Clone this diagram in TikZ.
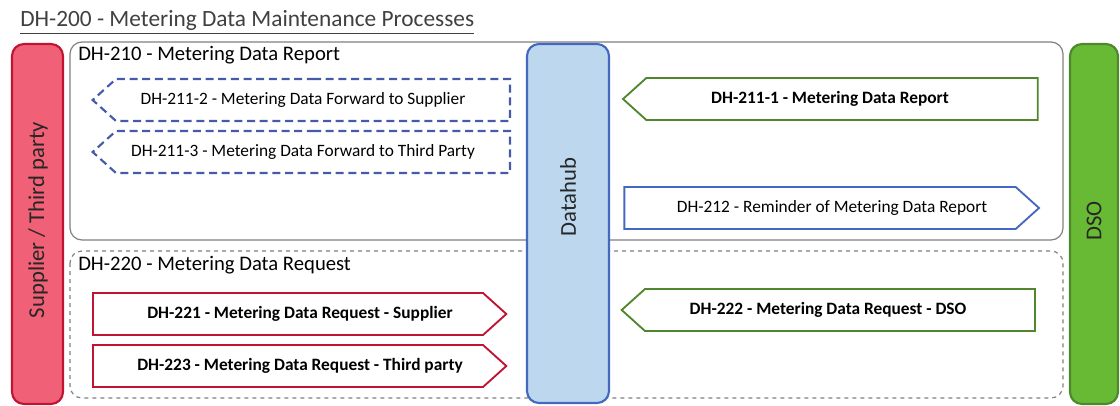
\documentclass[tikz,border=0pt]{standalone}
\usepackage{fontspec}
\setmainfont{Carlito}
\usetikzlibrary{shapes.symbols}

\definecolor{barred}{RGB}{240,96,118}
\definecolor{edgered}{RGB}{192,20,50}
\definecolor{hubblue}{RGB}{189,215,238}
\definecolor{edgeblue}{RGB}{68,104,190}
\definecolor{dashblue}{RGB}{70,90,170}
\definecolor{bargreen}{RGB}{104,186,52}
\definecolor{edgegreen}{RGB}{80,135,45}

\tikzset{
  lane/.style={draw,line width=1.6pt,rounded corners=9pt},
  lanetext/.style={rotate=90,text=black!85,font=\fontsize{17}{20}\selectfont},
  group/.style={draw=gray,line width=0.9pt,rounded corners=9pt},
  grouptext/.style={anchor=north west,inner sep=0pt,font=\fontsize{15.5}{18}\selectfont},
  flow/.style={signal,signal from=nowhere,signal pointer angle=84,
    line width=1.4pt,minimum height=31.5pt,minimum width=311pt,inner sep=0pt},
  fwd/.style={flow,signal to=west,draw=dashblue,line width=1.6pt,dash pattern=on 6pt off 3.5pt},
  flowtext/.style={font=\fontsize{13}{15}\selectfont},
  boldtext/.style={font=\fontsize{13}{15}\bfseries\selectfont},
}

\begin{document}
\begin{tikzpicture}[x=0.75pt,y=-0.75pt]
  \useasboundingbox (0,0) rectangle (1120,406);

  % title
  \node[anchor=base west,inner sep=0pt,text=black!75,font=\fontsize{17.5}{20}\selectfont] (title) at (20,27)
    {\underline{DH-200 - Metering Data Maintenance Processes}};

  % groups
  \draw[group] (70,42) rectangle (1063,240);
  \node[grouptext] (g210) at (78,46) {DH-210 - Metering Data Report};
  \draw[group,dashed] (70,251) rectangle (1063,398);
  \node[grouptext] (g220) at (78,256) {DH-220 - Metering Data Request};

  % lanes
  \draw[lane,draw=edgered,fill=barred] (12,44) rectangle (63,404);
  \node[lanetext] (supp) at (38,220) {Supplier / Third party};
  \draw[lane,draw=edgeblue,fill=hubblue] (527,44) rectangle (609,403);
  \node[lanetext] (hub) at (568,197) {Datahub};
  \draw[lane,draw=edgegreen,fill=bargreen] (1070,44) rectangle (1118,404);
  \node[lanetext] (dso) at (1094,221) {DSO};

  % DH-210 flows
  \node[fwd,minimum width=313pt] (f2112) at (313,100) {};
  \node[flowtext] (t2112) at (303,100) {DH-211-2 - Metering Data Forward to Supplier};
  \node[fwd,minimum width=313pt] (f2113) at (313,152) {};
  \node[flowtext] (t2113) at (303,152) {DH-211-3 - Metering Data Forward to Third Party};
  \node[flow,signal to=west,draw=edgegreen] (f2111) at (842,99) {};
  \node[boldtext] (t2111) at (830,99) {DH-211-1 - Metering Data Report};
  \node[flow,signal to=east,draw=edgeblue] (f212) at (820,208) {};
  \node[flowtext] (t212) at (832,208) {DH-212 - Reminder of Metering Data Report};

  % DH-220 flows
  \node[flow,signal to=east,draw=edgered,minimum width=310pt] (f221) at (288,314) {};
  \node[boldtext] (t221) at (300,314) {DH-221 - Metering Data Request - Supplier};
  \node[flow,signal to=east,draw=edgered,minimum width=310pt] (f223) at (288,366) {};
  \node[boldtext] (t223) at (300,366) {DH-223 - Metering Data Request - Third party};
  \node[flow,signal to=west,draw=edgegreen,minimum width=310pt] (f222) at (840,310) {};
  \node[boldtext] (t222) at (828,310) {DH-222 - Metering Data Request - DSO};
\end{tikzpicture}
\end{document}
